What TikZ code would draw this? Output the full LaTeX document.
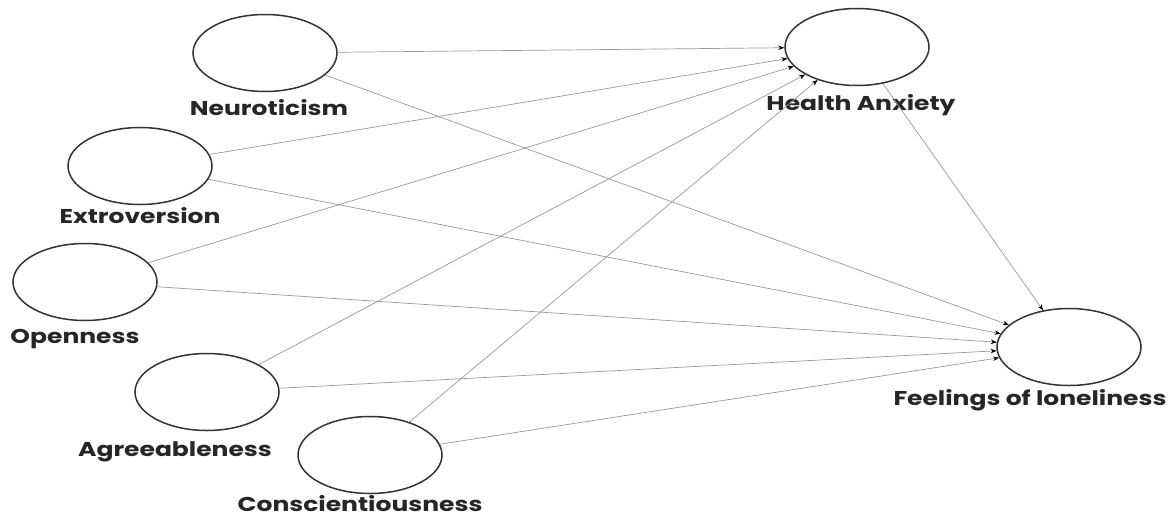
\documentclass[tikz,border=0pt]{standalone}
\usepackage{fontspec}
\setmainfont{Poppins}
\newfontfamily\labfont[FakeStretch=1.25]{Poppins}
\usetikzlibrary{arrows.meta,shapes.geometric}
\begin{document}
\begin{tikzpicture}[x=1pt,y=-1pt,
  var/.style={draw=black!80,line width=1.5pt,ellipse,minimum width=144pt,minimum height=77pt,inner sep=0pt},
  lab/.style={font=\labfont\fontsize{20}{24}\selectfont\bfseries,text=black!85,inner sep=0pt},
  path/.style={draw=black!40,line width=0.7pt,-{Stealth[length=6pt,width=4.5pt,color=black]}}]
\useasboundingbox (0,0) rectangle (1175,517);
\node[var] (neu) at (265,53) {};
\node[var] (ext) at (140,166) {};
\node[var] (ope) at (85,282) {};
\node[var] (agr) at (207,392) {};
\node[var] (con) at (370,455) {};
\node[var] (ha) at (857,47) {};
\node[var] (fol) at (1069,347) {};
\node[lab] (neul) at (269,108) {Neuroticism};
\node[lab] (extl) at (140,216) {Extroversion};
\node[lab] (opel) at (75,339) {Openness};
\node[lab] (agrl) at (175,452) {Agreeableness};
\node[lab] (conl) at (360,504) {Conscientiousness};
\node[lab] (hal) at (861,105) {Health Anxiety};
\node[lab] (foll) at (1030,400) {Feelings of loneliness};
\foreach \s in {neu,ext,ope,agr,con} {
  \draw[path] (\s) -- (ha);
  \draw[path] (\s) -- (fol);
}
\draw[path] (ha) -- (fol);
\end{tikzpicture}
\end{document}
